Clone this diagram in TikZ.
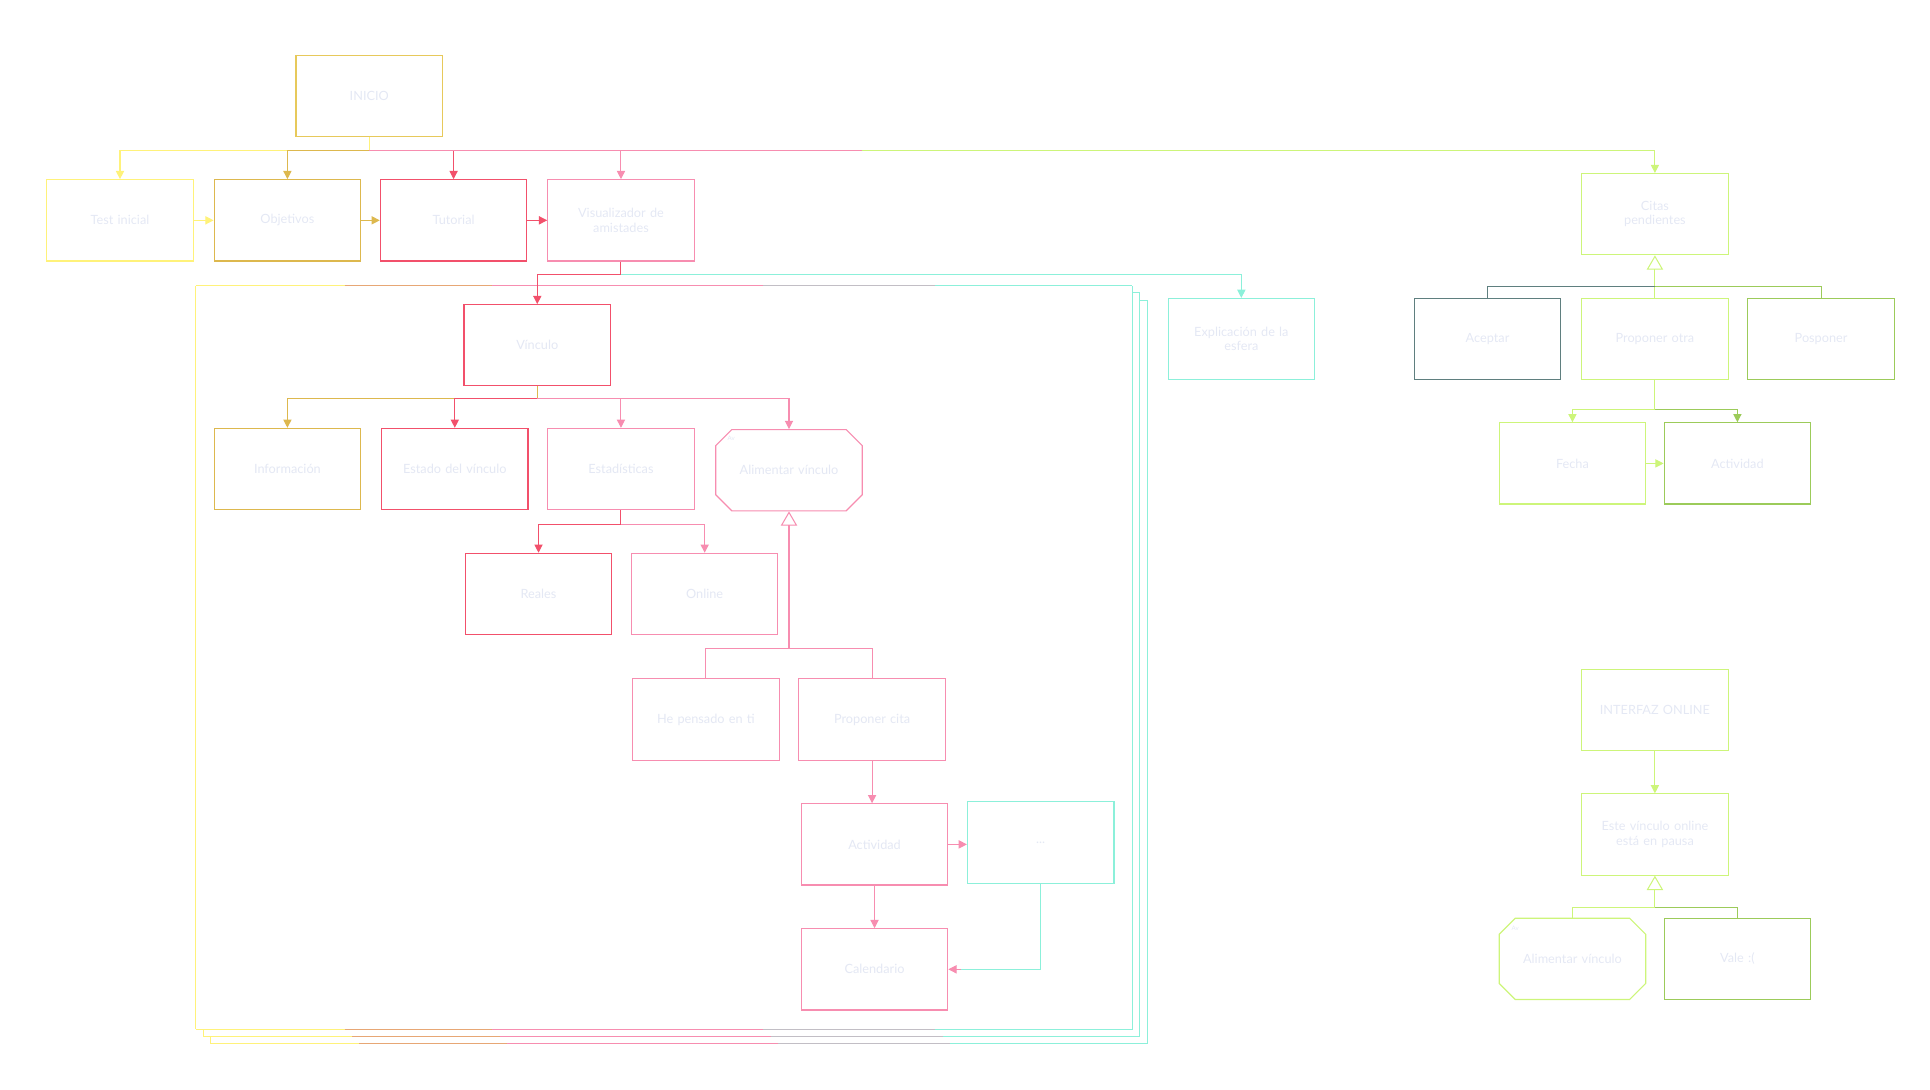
\documentclass[tikz,border=0pt]{standalone}
\usepackage{fontspec}
\setmainfont{Lato}
\usetikzlibrary{arrows.meta,shapes.misc}
\definecolor{cy}{HTML}{FFF27A}
\definecolor{cg}{HTML}{DDB84E}
\definecolor{cr}{HTML}{F2506B}
\definecolor{cp}{HTML}{F78DB0}
\definecolor{ct}{HTML}{8CF0DA}
\definecolor{cl}{HTML}{CDF57A}
\definecolor{cgr}{HTML}{9CCB5A}
\definecolor{cs}{HTML}{5F7F7F}
\definecolor{tx}{HTML}{E4E8F4}
\begin{document}
\begin{tikzpicture}[x=0.6pt,y=-0.6pt,
 box/.style={draw=#1,line width=0.55pt,minimum width=71.4pt,minimum height=39.6pt,inner sep=1pt,
   text=tx,font=\fontsize{6.2}{7}\selectfont,align=center,text width=62pt},
 oct/.style={box=#1,chamfered rectangle,chamfered rectangle xsep=4.5pt,chamfered rectangle ysep=4.5pt,minimum width=71.4pt,minimum height=39.6pt,inner xsep=0pt},
 ar/.style={draw=#1,line width=0.5pt,-{Triangle[length=4pt,width=4pt,fill=#1]}},
 inh/.style={draw=#1,line width=0.5pt,-{Triangle[open,length=7pt,width=8pt]}},
 ln/.style={draw=#1,line width=0.5pt},
 fr/.style={line width=0.5pt}]
\useasboundingbox (0,0) rectangle (1568,885.5);
% frames
\foreach \d in {12,6,0}{
 \fill[white] (159+\d,232+\d) rectangle (920+\d,836+\d);
 \draw[cy,fr] (159+\d,232+\d) -- (159+\d,836+\d);
 \draw[cy,fr] (159+\d,836+\d) -- (280+\d,836+\d);
 \draw[cg!60!cp,fr] (280+\d,836+\d) -- (400+\d,836+\d);
 \draw[cp,fr] (400+\d,836+\d) -- (620+\d,836+\d);
 \draw[cp!50!ct,fr] (620+\d,836+\d) -- (760+\d,836+\d);
 \draw[ct,fr] (760+\d,836+\d) -- (920+\d,836+\d) -- (920+\d,232+\d);
 \draw[cy,fr] (159+\d,232+\d) -- (280+\d,232+\d);
 \draw[cg!60!cp,fr] (280+\d,232+\d) -- (400+\d,232+\d);
 \draw[cp,fr] (400+\d,232+\d) -- (620+\d,232+\d);
 \draw[cp!50!ct,fr] (620+\d,232+\d) -- (760+\d,232+\d);
 \draw[ct,fr] (760+\d,232+\d) -- (920+\d,232+\d);
}
\node[box=cg!70!cy] (inicio) at (300,78) {INICIO};
\node[box=cy] (test) at (97.5,179) {Test inicial};
\node[box=cg] (obj) at (233.5,179) {Objetivos};
\node[box=cr] (tut) at (368.5,179) {Tutorial};
\node[box=cp] (vis) at (504.5,179) {Visualizador de\\amistades};
\node[box=cl] (citas) at (1344.5,174) {Citas\\pendientes};
\node[box=ct] (expl) at (1008.5,275.5) {Explicación de la\\esfera};
\node[box=cr] (vin) at (436.5,280.5) {Vínculo};
\node[box=cg] (info) at (233.5,381) {Información};
\node[box=cr] (est) at (369.5,381) {Estado del vínculo};
\node[box=cp] (esta) at (504.5,381) {Estadísticas};
\node[oct=cp] (alim) at (641,382) {Alimentar vínculo};
\node[text=tx,font=\fontsize{3}{3}\selectfont] at (594,356) {Av};
\node[box=cr] (real) at (437.5,482.5) {Reales};
\node[box=cp] (onl) at (572.5,482.5) {Online};
\node[box=cp] (pens) at (573.5,584.5) {He pensado en ti};
\node[box=cp] (prop) at (708.5,584.5) {Proponer cita};
\node[box=cp] (act) at (710.5,686) {Actividad};
\node[box=ct] (dots) at (845.5,684.5) {...};
\node[box=cp] (cal) at (710.5,787.5) {Calendario};
\node[box=cs] (acep) at (1208.5,275.5) {Aceptar};
\node[box=cl] (pro) at (1344.5,275.5) {Proponer otra};
\node[box=cgr] (pos) at (1479.5,275.5) {Posponer};
\node[box=cl] (fecha) at (1277.5,376.5) {Fecha};
\node[box=cgr] (act2) at (1411.5,376.5) {Actividad};
\node[box=cl] (inter) at (1344.5,577) {INTERFAZ ONLINE};
\node[box=cl] (pausa) at (1344.5,678) {Este vínculo online\\está en pausa};
\node[oct=cl] (alim2) at (1277.5,779) {Alimentar vínculo};
\node[text=tx,font=\fontsize{3}{3}\selectfont] at (1231,754) {Av};
\node[box=cgr] (vale) at (1411.5,779) {Vale :(};
% top bus
\coordinate (b0) at (300,122);
\draw[ar=cy] (inicio.south) -- (b0) -| (test.north);
\draw[ar=cg] (b0) -| (obj.north);
\draw[ar=cr] (b0) -| (tut.north);
\draw[ar=cp] (b0) -| (vis.north);
\draw[ar=cl] (b0) -| (citas.north);
\draw[ln=cp] (b0) -- (700,122);
\draw[ar=cy] (test) -- (obj);
\draw[ar=cg] (obj) -- (tut);
\draw[ar=cr] (tut) -- (vis);
\coordinate (b1) at (504.5,223);
\draw[ar=cr] (vis.south) -- (b1) -| (vin.north);
\draw[ar=ct] (b1) -| (expl.north);
\coordinate (b2) at (436.5,324);
\draw[ar=cg] (vin.south) -- (b2) -| (info.north);
\draw[ar=cr] (b2) -| (est.north);
\draw[ar=cp] (b2) -| (esta.north);
\draw[ar=cp] (b2) -| (alim.north);
\coordinate (b3) at (504.5,426);
\draw[ar=cr] (esta.south) -- (b3) -| (real.north);
\draw[ar=cp] (b3) -| (onl.north);
\coordinate (b4) at (641,527);
\draw[inh=cp] (b4) -- (alim.south);
\draw[ln=cp] (pens.north) |- (b4) -| (prop.north);
\draw[ar=cp] (prop.south) -- (prop.south |- act.north);
\draw[ar=cp] (act) -- (act.east -| dots.west);
\draw[ar=cp] (act.south) -- (cal.north);
\draw[ln=ct] (dots.south) |- ([xshift=6pt]cal.east);
\draw[ar=cp] ([xshift=6pt]cal.east) -- (cal.east);
% right
\coordinate (b5) at (1344.5,233);
\draw[inh=cl] (b5) -- (citas.south);
\draw[ln=cs] (acep.north) |- (b5);
\draw[ln=cl] (pro.north) -- (b5);
\draw[ln=cgr] (pos.north) |- (b5);
\coordinate (b6) at (1344.5,333);
\draw[ar=cl] (pro.south) -- (b6) -| (fecha.north);
\draw[ar=cgr] (b6) -| (act2.north);
\draw[ar=cl] (fecha) -- (act2);
\draw[ar=cl] (inter) -- (pausa);
\coordinate (b7) at (1344.5,737);
\draw[inh=cl] (b7) -- (pausa.south);
\draw[ln=cl] (alim2.north) |- (b7);
\draw[ln=cgr] (vale.north) |- (b7);
\end{tikzpicture}
\end{document}
